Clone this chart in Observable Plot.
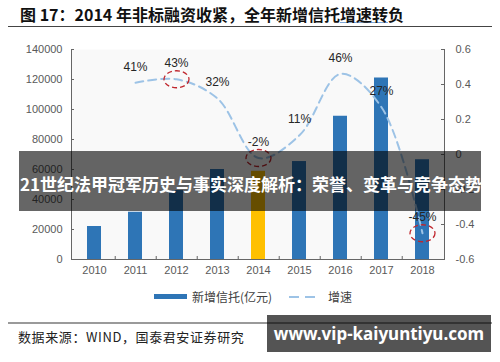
<!DOCTYPE html>
<html><head><meta charset="utf-8">
<script src="https://cdn.jsdelivr.net/npm/d3@7"></script>
<script src="https://cdn.jsdelivr.net/npm/@observablehq/plot@0.6"></script>
<style>
body{margin:0;background:#fff;}
#wrap{position:relative;width:500px;height:362px;overflow:hidden;font-family:"Liberation Sans",Arial,"Noto Sans CJK SC",sans-serif;}
#title{position:absolute;left:20px;top:4px;font:bold 16px/20px "Noto Sans CJK SC",sans-serif;color:#111;white-space:nowrap;}
#title .u{text-decoration:underline;text-decoration-color:#7fa7d8;}
#rule1{position:absolute;left:8px;top:26px;width:484px;height:1px;background:#444;}
#chart{position:absolute;left:0;top:30px;}
#legend{position:absolute;left:0;top:288px;width:500px;height:18px;font:12px/18px "Noto Sans CJK SC",sans-serif;color:#404040;}
#legend .sw1{position:absolute;left:154px;top:6px;width:33px;height:5px;background:#2e75b6;}
#legend .t1{position:absolute;left:192px;top:0;}
#legend .sw2{position:absolute;left:288px;top:0;}
#legend .t2{position:absolute;left:328px;top:0;}
#rule2{position:absolute;left:8px;top:322px;width:484px;height:2px;background:#9a9a9a;}
#source{position:absolute;left:18px;top:328px;font:13px/18px "Noto Sans CJK SC",sans-serif;color:#222;letter-spacing:0.6px;white-space:nowrap;}
#banner{position:absolute;left:19px;top:151px;width:462px;height:60px;background:rgba(0,0,0,0.6);color:#fff;font:bold 17px/20px "Noto Sans CJK SC",sans-serif;white-space:nowrap;}
#banner span{position:absolute;left:1px;top:23px;}
#wm{position:absolute;left:267px;top:315px;width:224px;height:37px;background:rgba(0,0,0,0.67);color:#fff;font:bold 17px/37px "Noto Sans","Open Sans",sans-serif;text-align:center;white-space:nowrap;}
</style></head><body>
<div id="wrap">
  <div id="title">图 17：2014 年非标融资收紧，全年新增信托<span class="u">增速转</span>负</div>
  <div id="rule1"></div>
  <div id="chart"></div>
  <div id="legend">
    <div class="sw1"></div><div class="t1">新增信托(亿元)</div>
    <svg class="sw2" width="32" height="18"><line x1="1" y1="9" x2="31" y2="9" stroke="#9dc3e6" stroke-width="2" stroke-dasharray="10,6"/></svg>
    <div class="t2">增速</div>
  </div>
  <div id="rule2"></div>
  <div id="source">数据来源：WIND，国泰君安证券研究</div>
  <div id="banner"><span>21世纪法甲冠军历史与事实深度解析：荣誉、变革与竞争态势</span></div>
  <div id="wm">www.vip-kaiyuntiyu.com</div>
</div>
<script>
// ---- data ----
const years = ["2010","2011","2012","2013","2014","2015","2016","2017","2018"];
const newTrust = [22000, 31500, 46000, 60000, 58800, 65300, 95500, 121000, 66500];
const growth = [null, 0.41, 0.43, 0.32, -0.02, 0.11, 0.46, 0.27, -0.45];
const circledYears = ["2012", "2014", "2018"];
const highlightYear = "2014";
const leftTicks = [0, 20000, 40000, 60000, 80000, 100000, 120000, 140000];
const rightTicks = [-0.6, -0.4, -0.2, 0, 0.2, 0.4, 0.6];
const rightTickLabels = ["-0.6", "-0.4", "-0.2", "0", "0.2", "0.4", "0.6"];

// ---- chart ----
const leftMax = 140000, gMin = -0.6, gMax = 0.6;
const toLeft = g => (g - gMin) / (gMax - gMin) * leftMax; // right axis -> left scale
const rows = years.map((y, i) => ({year: y, value: newTrust[i], growth: growth[i]}));
const gRows = rows.filter(d => d.growth != null);
const pct = v => Math.round(v * 100) + "%";

const W = 500, H = 255, mL = 71, mR = 56, mT = 19, mB = 26;
const step = (W - mL - mR) / years.length;

const ellipse = {
  draw(ctx) {
    const rx = 12.5, ry = 8.5, k = 0.5523;
    ctx.moveTo(rx, 0);
    ctx.bezierCurveTo(rx, ry * k, rx * k, ry, 0, ry);
    ctx.bezierCurveTo(-rx * k, ry, -rx, ry * k, -rx, 0);
    ctx.bezierCurveTo(-rx, -ry * k, -rx * k, -ry, 0, -ry);
    ctx.bezierCurveTo(rx * k, -ry, rx, -ry * k, rx, 0);
    ctx.closePath();
  }
};

const chart = Plot.plot({
  width: W, height: H,
  marginLeft: mL, marginRight: mR, marginTop: mT, marginBottom: mB,
  style: {fontFamily: '"Liberation Sans", Arial, sans-serif', fontSize: "11px", color: "#595959", background: "transparent"},
  x: {type: "band", domain: years, paddingInner: 0.66, paddingOuter: 0.33, label: null},
  y: {domain: [0, leftMax], label: null},
  marks: [
    Plot.frame({fill: "#f9f9f9", stroke: null}),
    Plot.barY(rows, {x: "year", y: "value", fill: d => d.year === highlightYear ? "#ffc000" : "#2e75b6"}),
    Plot.line(gRows, {x: "year", y: d => toLeft(d.growth), stroke: "#9dc3e6", strokeWidth: 2, strokeDasharray: "8,5", curve: "catmull-rom"}),
    Plot.dot(gRows.filter(d => circledYears.includes(d.year)), {x: "year", y: d => toLeft(d.growth), symbol: ellipse, r: 5, stroke: "#c0262d", strokeWidth: 1.3, strokeDasharray: "5,3", fill: "none"}),
    Plot.text(gRows, {x: "year", y: d => toLeft(d.growth), text: d => pct(d.growth), dy: -16, fill: "#262626", fontSize: 12}),
    Plot.frame({anchor: "left", stroke: "#666"}),
    Plot.frame({anchor: "right", stroke: "#666"}),
    Plot.frame({anchor: "bottom", stroke: "#666"}),
    Plot.tickX(years.slice(0, -1), {x: d => d, dx: step / 2, insetTop: H - mT - mB - 3, stroke: "#666"}),
    Plot.axisY(leftTicks, {anchor: "left", tickSize: 3, insetLeft: 3, tickPadding: 9, tickFormat: d => String(d), stroke: "#666"}),
    Plot.axisY(rightTicks.map(toLeft), {anchor: "right", tickSize: 4, insetRight: 4, tickPadding: 11, tickFormat: (d, i) => rightTickLabels[i], stroke: "#666"}),
    Plot.axisX({tickSize: 0, tickPadding: 7})
  ]
});
document.getElementById("chart").appendChild(chart);
</script>
</body></html>
